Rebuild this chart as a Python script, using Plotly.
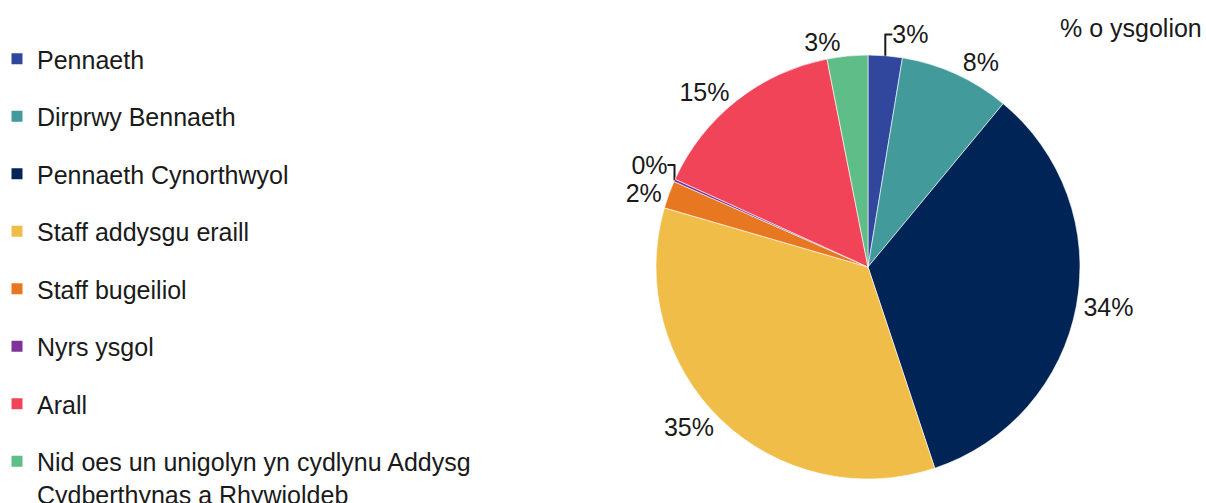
import plotly.graph_objects as go

labels = ["Pennaeth", "Dirprwy Bennaeth", "Pennaeth Cynorthwyol", "Staff addysgu eraill",
          "Staff bugeiliol", "Nyrs ysgol", "Arall",
          "Nid oes un unigolyn yn cydlynu Addysg<br>Cydberthynas a Rhywioldeb"]
values = [2.6, 8.4, 33.9, 34.6, 2.1, 0.2, 15.1, 3.1]
colors = ["#31479E", "#429A9A", "#002455", "#F0BE48", "#E87722", "#7E3399", "#F24458", "#5FBD88"]

W, H = 1206, 503
cx, cy, r = 868, 267, 212
FONT = "Liberation Sans, Arial, sans-serif"
FS = 25

fig = go.Figure()
fig.add_trace(go.Pie(
    labels=labels, values=values, sort=False, direction="clockwise", rotation=0,
    marker=dict(colors=colors, line=dict(color="white", width=0.6)),
    texttemplate="%{value:.0f}%", textposition="outside",
    textfont=dict(family=FONT, size=FS, color="#1a1a1a"),
    showlegend=False, hoverinfo="label+value", automargin=False,
    domain=dict(x=[(cx - r) / W, (cx + r) / W], y=[(H - cy - r) / H, (H - cy + r) / H]),
))

for i, (lab, col) in enumerate(zip(labels, colors)):
    fig.add_trace(go.Scatter(
        x=[None], y=[None], mode="markers", name=lab,
        marker=dict(symbol="square", size=11, color=col),
        legendgroup=f"g{i}", showlegend=True,
    ))

fig.update_layout(
    width=W, height=H,
    margin=dict(l=0, r=0, t=0, b=0, autoexpand=False),
    paper_bgcolor="white", plot_bgcolor="white",
    xaxis=dict(visible=False), yaxis=dict(visible=False),
    legend=dict(
        xref="paper", yref="paper", x=-3 / W, y=1 - 36 / H,
        xanchor="left", yanchor="top", valign="top",
        font=dict(family=FONT, size=FS, color="#1a1a1a"),
        tracegroupgap=22, itemsizing="trace", bgcolor="rgba(0,0,0,0)",
        maxheight=1.0,
    ),
    annotations=[dict(
        text="% o ysgolion", xref="paper", yref="paper", x=1204 / W, y=1 - 28 / H,
        xanchor="right", yanchor="middle", showarrow=False,
        font=dict(family=FONT, size=FS, color="#1a1a1a"),
    )],
)

fig.write_html("out.html", config={"displayModeBar": False},
               post_script="document.body.style.margin='0';")
